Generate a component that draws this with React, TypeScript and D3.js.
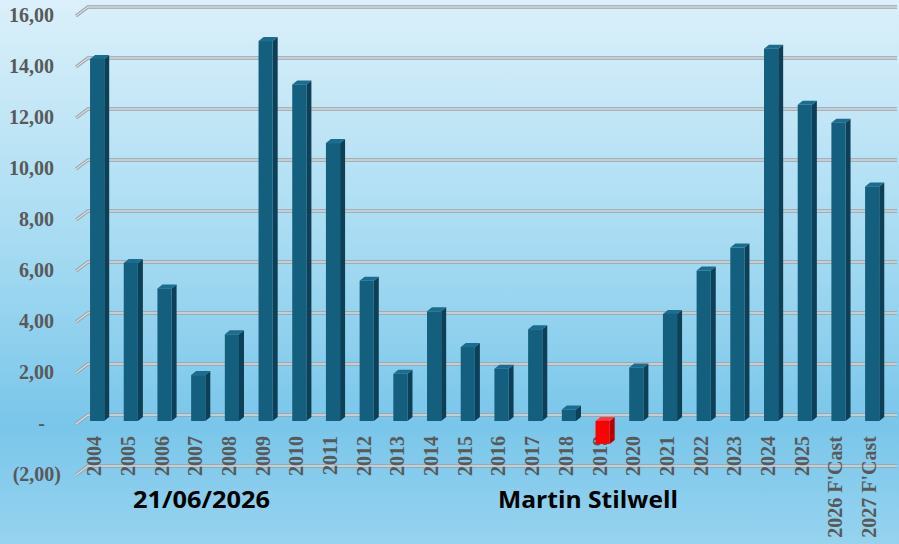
import React from "react";
import * as d3 from "d3";

const categories = [
  "2004", "2005", "2006", "2007", "2008", "2009", "2010", "2011", "2012", "2013",
  "2014", "2015", "2016", "2017", "2018", "2019", "2020", "2021", "2022", "2023",
  "2024", "2025", "2026 F'Cast", "2027 F'Cast",
];
const values = [
  14.2, 6.2, 5.2, 1.8, 3.4, 14.9, 13.2, 10.9, 5.5, 1.85,
  4.3, 2.9, 2.05, 3.6, 0.45, -0.9, 2.1, 4.2, 5.9, 6.8,
  14.6, 12.4, 11.7, 9.2,
];
const yTicks = [16, 14, 12, 10, 8, 6, 4, 2, 0, -2];
const dateText = "21/06/2026";
const authorText = "Martin Stilwell";

const W = 899;
const H = 544;

function fmt(v: number): string {
  if (v === 0) return "-";
  const s = d3.format(".2f")(Math.abs(v)).replace(".", ",");
  return v < 0 ? `(${s})` : s;
}

export default function App() {
  const yBack = d3.scaleLinear().domain([-2, 16]).range([466, 7]);
  const frontDy = 6;
  const yFront = (v: number) => yBack(v) + frontDy;
  const x = d3.scaleBand<string>().domain(categories).range([70.5, 898.8]).padding(0.58);
  const bw = x.bandwidth();
  const dx = 5;
  const dy = -4;

  return (
    <div style={{ position: "absolute", left: 0, top: 0 }}>
      <svg width={W} height={H} style={{ display: "block" }}>
        <defs>
          <linearGradient id="bg" x1="0" y1="0" x2="0" y2="1">
            <stop offset="0" stopColor="#dbf0fa" />
            <stop offset="0.45" stopColor="#a6dbf2" />
            <stop offset="0.78" stopColor="#79c6ea" />
            <stop offset="1" stopColor="#96d3ef" />
          </linearGradient>
        </defs>
        <rect x={0} y={0} width={W} height={H} fill="url(#bg)" />
        {yTicks.map((t) => {
          const yb = yBack(t);
          const pts = `76,${yb + 9} 88,${yb} 897,${yb}`;
          return (
            <g key={`g${t}`}>
              <polyline points={pts} fill="none" stroke="#97a2a8" strokeWidth={3.4} />
              <polyline points={pts} fill="none" stroke="#d9dcde" strokeWidth={1.3} />
            </g>
          );
        })}
        {yTicks.map((t) => (
          <text
            key={`l${t}`}
            x={t === 0 ? 45 : t < 0 ? 61 : 54}
            y={yBack(t) + 10.5}
            textAnchor="end"
            dominantBaseline="middle"
            fontFamily="'Liberation Serif', serif"
            fontWeight="bold"
            fontSize={20}
            fill="#595959"
          >
            {fmt(t)}
          </text>
        ))}
        {categories.map((c) => {
          const cx = (x(c) as number) + bw / 2 - 3;
          return (
            <text
              key={`x${c}`}
              transform={`translate(${cx},436) rotate(-90)`}
              textAnchor="end"
              dy="0.35em"
              fontFamily="'Liberation Serif', serif"
              fontWeight="bold"
              fontSize={20}
              fill="#595959"
            >
              {c}
            </text>
          );
        })}
        {categories.map((c, i) => {
          const v = values[i];
          const x0 = x(c) as number;
          const top = yFront(Math.max(v, 0));
          const bot = yFront(Math.min(v, 0));
          const neg = v < 0;
          const front = neg ? "#ff0000" : "#145e7e";
          const side = neg ? "#b30000" : "#0d3f56";
          const topc = neg ? "#ff3a3a" : "#1b6d90";
          return (
            <g key={`b${c}`}>
              <polygon
                points={`${x0 + bw},${top} ${x0 + bw + dx},${top + dy} ${x0 + bw + dx},${bot + dy} ${x0 + bw},${bot}`}
                fill={side}
              />
              <polygon
                points={`${x0},${top} ${x0 + dx},${top + dy} ${x0 + bw + dx},${top + dy} ${x0 + bw},${top}`}
                fill={topc}
              />
              <rect x={x0} y={top} width={bw} height={Math.max(bot - top, 0.5)} fill={front} />
            </g>
          );
        })}
        <text
          x={133}
          y={508}
          fontFamily="'Open Sans', sans-serif"
          fontWeight="bold"
          fontSize={23}
          fill="#000"
          textLength={137}
          lengthAdjust="spacingAndGlyphs"
        >
          {dateText}
        </text>
        <text
          x={498}
          y={508}
          fontFamily="'Open Sans', sans-serif"
          fontWeight="bold"
          fontSize={23}
          fill="#000"
          textLength={180}
          lengthAdjust="spacingAndGlyphs"
        >
          {authorText}
        </text>
      </svg>
    </div>
  );
}
